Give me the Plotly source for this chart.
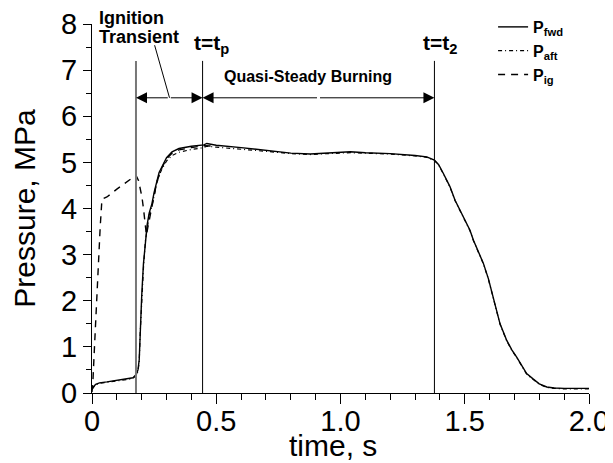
import plotly.graph_objects as go

# ---------------- data ----------------
t_fwd = [0, 0.005, 0.015, 0.03, 0.06, 0.1, 0.14, 0.165, 0.178, 0.185, 0.19, 0.194, 0.2, 0.207,
         0.215, 0.222, 0.23, 0.241, 0.25, 0.261, 0.27, 0.281, 0.3, 0.322, 0.35, 0.4, 0.45, 0.462,
         0.5, 0.6, 0.7, 0.8, 0.878, 0.95, 1.04, 1.1, 1.2, 1.3, 1.347, 1.378, 1.395, 1.414, 1.44,
         1.461, 1.49, 1.521, 1.535, 1.555, 1.575, 1.595, 1.615, 1.642, 1.669, 1.69, 1.709, 1.73,
         1.749, 1.776, 1.8, 1.83, 1.86, 1.9, 2.0]
p_fwd = [0.08, 0.13, 0.19, 0.22, 0.24, 0.27, 0.3, 0.33, 0.4, 0.5, 0.72, 1.36, 2.1, 2.8,
         3.35, 3.65, 3.9, 4.1, 4.35, 4.61, 4.78, 4.9, 5.1, 5.23, 5.3, 5.35, 5.38, 5.41,
         5.37, 5.32, 5.26, 5.2, 5.18, 5.2, 5.23, 5.21, 5.19, 5.15, 5.12, 5.05, 4.95, 4.76, 4.48,
         4.18, 3.85, 3.53, 3.31, 3.06, 2.81, 2.48, 2.08, 1.5, 1.14, 0.93, 0.78, 0.6,
         0.42, 0.3, 0.2, 0.13, 0.11, 0.1, 0.1]

t_aft = list(t_fwd)
p_aft = [0.08, 0.12, 0.18, 0.21, 0.23, 0.26, 0.29, 0.32, 0.38, 0.47, 0.68, 1.3, 2.0, 2.7,
         3.3, 3.6, 3.85, 4.05, 4.3, 4.55, 4.72, 4.85, 5.03, 5.15, 5.22, 5.28, 5.32, 5.35,
         5.33, 5.29, 5.24, 5.19, 5.17, 5.19, 5.21, 5.2, 5.18, 5.14, 5.11, 5.04, 4.94, 4.75, 4.47,
         4.17, 3.84, 3.52, 3.3, 3.05, 2.8, 2.47, 2.07, 1.49, 1.13, 0.92, 0.77, 0.59,
         0.41, 0.29, 0.19, 0.12, 0.1, 0.09, 0.09]

t_ig = [0, 0.004, 0.01, 0.018, 0.026, 0.033, 0.04, 0.06, 0.1, 0.14, 0.17, 0.177, 0.187, 0.201,
        0.208, 0.214, 0.219, 0.225, 0.241, 0.261, 0.281, 0.3, 0.322, 0.35, 0.4, 0.45, 0.5]
p_ig = [0.02, 0.3, 1.0, 2.0, 3.0, 3.6, 4.2, 4.25, 4.42, 4.58, 4.7, 4.72, 4.61, 4.25,
        3.96, 3.6, 3.42, 3.6, 4.07, 4.58, 4.88, 5.08, 5.2, 5.27, 5.32, 5.36, 5.35]

series_names = ["P<sub>fwd</sub>", "P<sub>aft</sub>", "P<sub>ig</sub>"]

t_ignite = 0.177     # start of ignition transient
t_p = 0.445          # t = t_p
t_2 = 1.378          # t = t_2
marker_top = 7.2
arrow_level = 6.4

x_ticks = [0, 0.5, 1.0, 1.5, 2.0]
x_tick_labels = ["0", "0.5", "1.0", "1.5", "2.0"]
y_ticks = [0, 1, 2, 3, 4, 5, 6, 7, 8]

FONT = "Liberation Sans, Arial, sans-serif"

fig = go.Figure()
fig.add_trace(go.Scatter(x=t_fwd, y=p_fwd, mode="lines", name=series_names[0],
                         line=dict(color="black", width=1.4)))
fig.add_trace(go.Scatter(x=t_aft, y=p_aft, mode="lines", name=series_names[1],
                         line=dict(color="black", width=1.2, dash="4px,3px,1px,3px")))
fig.add_trace(go.Scatter(x=t_ig, y=p_ig, mode="lines", name=series_names[2],
                         line=dict(color="black", width=1.4, dash="7px,6px")))

# vertical marker lines
fig.add_shape(type="line", x0=t_ignite, x1=t_ignite, y0=0, y1=marker_top,
              line=dict(color="#777777", width=2))
fig.add_shape(type="line", x0=t_p, x1=t_p, y0=0, y1=marker_top,
              line=dict(color="black", width=1))
fig.add_shape(type="line", x0=t_2, x1=t_2, y0=0, y1=marker_top,
              line=dict(color="black", width=1))

# double arrows
def arrow(x_tip, x_tail):
    fig.add_annotation(x=x_tip, y=arrow_level, ax=x_tail, ay=arrow_level,
                       xref="x", yref="y", axref="x", ayref="y", text="",
                       showarrow=True, arrowhead=2, arrowsize=2.2, arrowwidth=1,
                       arrowcolor="black", standoff=0, startstandoff=0)

mid1 = (t_ignite + t_p) / 2
mid2 = (t_p + t_2) / 2
arrow(t_ignite, mid1)
arrow(t_p, mid1)
arrow(t_p, mid2)
arrow(t_2, mid2)

# leader line from label
fig.add_shape(type="line", x0=0.252, y0=7.54, x1=0.312, y1=arrow_level,
              line=dict(color="black", width=1))

lab = dict(family=FONT, color="black", size=18)
fig.add_annotation(x=0.02, y=1.016, xref="x", yref="paper", text="<b>Ignition</b>",
                   showarrow=False, xanchor="left", yanchor="middle", font=lab)
fig.add_annotation(x=0.02, y=0.964, xref="x", yref="paper", text="<b>Transient</b>",
                   showarrow=False, xanchor="left", yanchor="middle", font=lab)
fig.add_annotation(x=t_p + 0.035, y=7.25, xref="x", yref="y", text="<b>t=t<sub>p</sub></b>",
                   showarrow=False, xanchor="center", yanchor="bottom",
                   font=dict(family=FONT, color="black", size=21))
fig.add_annotation(x=t_2 + 0.022, y=7.25, xref="x", yref="y", text="<b>t=t<sub>2</sub></b>",
                   showarrow=False, xanchor="center", yanchor="bottom",
                   font=dict(family=FONT, color="black", size=21))
fig.add_annotation(x=mid2 - 0.043, y=6.86, xref="x", yref="y",
                   text="<b>Quasi-Steady Burning</b>", showarrow=False,
                   xanchor="center", yanchor="middle",
                   font=dict(family=FONT, color="black", size=16))

# x-axis title
fig.add_annotation(x=0.485, y=-0.141, xref="paper", yref="paper", text="time, s",
                   showarrow=False, xanchor="center", yanchor="middle",
                   font=dict(family=FONT, color="black", size=30))

fig.update_layout(
    width=613, height=463,
    margin=dict(l=84, r=32, t=16, b=78, autoexpand=False),
    paper_bgcolor="white", plot_bgcolor="white",
    font=dict(family=FONT, color="black"),
    showlegend=True,
    legend=dict(x=0.807, y=1.038, xanchor="left", yanchor="top",
                bgcolor="rgba(0,0,0,0)", tracegroupgap=0,
                font=dict(family=FONT, size=16, color="black", weight="bold"),
                itemwidth=30),
)
fig.update_xaxes(range=[0, 2.0], tickvals=x_ticks, ticktext=x_tick_labels, automargin=False,
                 showgrid=False, zeroline=False, showline=True, linecolor="black",
                 linewidth=1.3, ticks="outside", ticklen=10, tickwidth=1, tickcolor="black",
                 ticklabelstandoff=-8,
                 tickfont=dict(family=FONT, size=29, color="black"),
                 minor=dict(dtick=0.1, ticks="outside", ticklen=6, tickwidth=1, tickcolor="black"))
fig.update_yaxes(range=[0, 8], tickvals=y_ticks, automargin=False,
                 showgrid=False, zeroline=False, showline=True, linecolor="black",
                 linewidth=1.3, ticks="outside", ticklen=8, tickwidth=1, tickcolor="black",
                 tickfont=dict(family=FONT, size=29, color="black"),
                 minor=dict(dtick=0.5, ticks="outside", ticklen=5, tickwidth=1, tickcolor="black"),
                 title=dict(text="Pressure, MPa", font=dict(family=FONT, size=30, color="black"),
                            standoff=33))

fig.write_html("out.html")
